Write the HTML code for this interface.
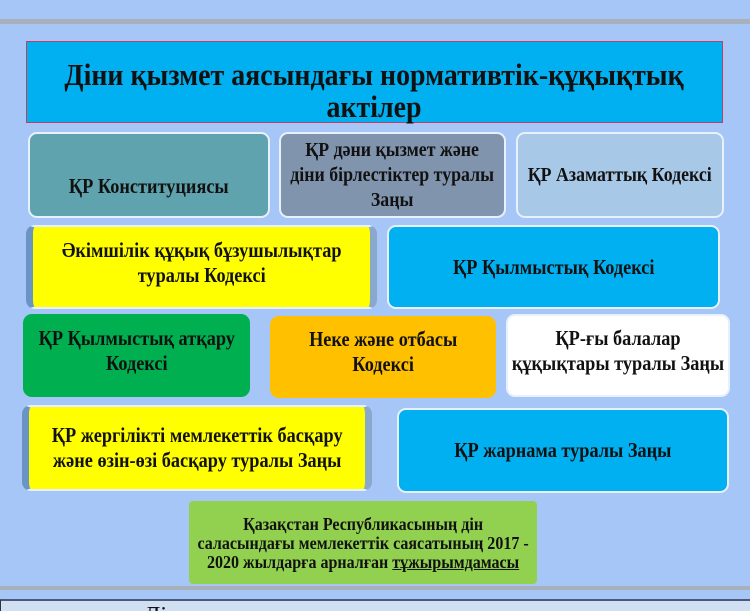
<!DOCTYPE html>
<html><head><meta charset="utf-8"><style>
*{margin:0;padding:0;box-sizing:border-box}
html,body{width:750px;height:611px;overflow:hidden}
body{background:#a6c6f8;position:relative;font-family:"Liberation Serif",serif;font-weight:bold;color:#111}
.b{position:absolute;display:flex;align-items:center;justify-content:center;text-align:center;border-radius:9px;border:2px solid #e8f0fc;font-size:21px;line-height:25px;white-space:nowrap}
.b>div{transform:scaleX(0.87)}
.bar{position:absolute;left:0;width:750px;background:#a8b0bc}
</style></head><body>
<div class="bar" style="top:19px;height:5px"></div>
<div class="b" style="left:26px;top:41px;width:697px;height:82px;border-radius:0;border:1px solid #c04060;background:#00b0f0;font-size:31px;line-height:32px"><div style="padding-top:18px;transform:scaleX(0.9)">Діни қызмет аясындағы нормативтік-құқықтық<br>актілер</div></div>

<div class="b" style="left:28px;top:132px;width:242px;height:86px;background:#5fa3ae;padding-top:22px"><div>ҚР Конституциясы</div></div>
<div class="b" style="left:279px;top:132px;width:227px;height:86px;background:#8094ae;line-height:25px;font-size:20.5px"><div>ҚР дәни қызмет және<br>діни бірлестіктер туралы<br>Заңы</div></div>
<div class="b" style="left:516px;top:132px;width:208px;height:86px;background:#a8c8e8;font-size:20.5px"><div>ҚР Азаматтық Кодексі</div></div>

<div class="b" style="left:26px;top:225px;width:351px;height:84px;background:#ffff00;border-left:7px solid #6a94c4;border-right:7px solid #8aa8cc;padding-bottom:8px"><div>Әкімшілік құқық бұзушылықтар<br>туралы Кодексі</div></div>
<div class="b" style="left:387px;top:225px;width:333px;height:84px;background:#00b0f0"><div>ҚР Қылмыстық Кодексі</div></div>

<div class="b" style="left:23px;top:314px;width:227px;height:83px;background:#00b050;border-color:#00b050;padding-bottom:10px"><div>ҚР Қылмыстық атқару<br>Кодексі</div></div>
<div class="b" style="left:270px;top:316px;width:226px;height:82px;background:#ffc000;border-color:#ffc000;padding-bottom:10px"><div>Неке және отбасы<br>Кодексі</div></div>
<div class="b" style="left:506px;top:314px;width:224px;height:83px;background:#ffffff;padding-bottom:10px"><div>ҚР-ғы балалар<br>құқықтары туралы Заңы</div></div>

<div class="b" style="left:22px;top:405px;width:350px;height:86px;background:#ffff00;border-left:7px solid #6a94c4;border-right:7px solid #8aa8cc"><div>ҚР жергілікті мемлекеттік басқару<br>және өзін-өзі басқару туралы Заңы</div></div>
<div class="b" style="left:397px;top:408px;width:332px;height:85px;background:#00b0f0"><div>ҚР жарнама туралы Заңы</div></div>

<div class="b" style="left:189px;top:501px;width:348px;height:83px;background:#92d050;border:none;border-radius:4px;font-size:18px;line-height:19px"><div style="padding-top:2px;transform:scaleX(0.89)">Қазақстан Республикасының дін<br>саласындағы мемлекеттік саясатының 2017 -<br>2020 жылдарға арналған <u>тұжырымдамасы</u></div></div>

<div class="bar" style="top:586px;height:4px"></div>
<div style="position:absolute;left:0;top:599px;width:750px;height:12px;background:#d0e0f2;border-top:2px solid #4a5a78;border-left:1px solid #333;overflow:hidden">
<div style="position:absolute;left:143px;top:3px;font-size:24px;line-height:24px;font-weight:normal;color:#111">Ді</div></div>
</body></html>
